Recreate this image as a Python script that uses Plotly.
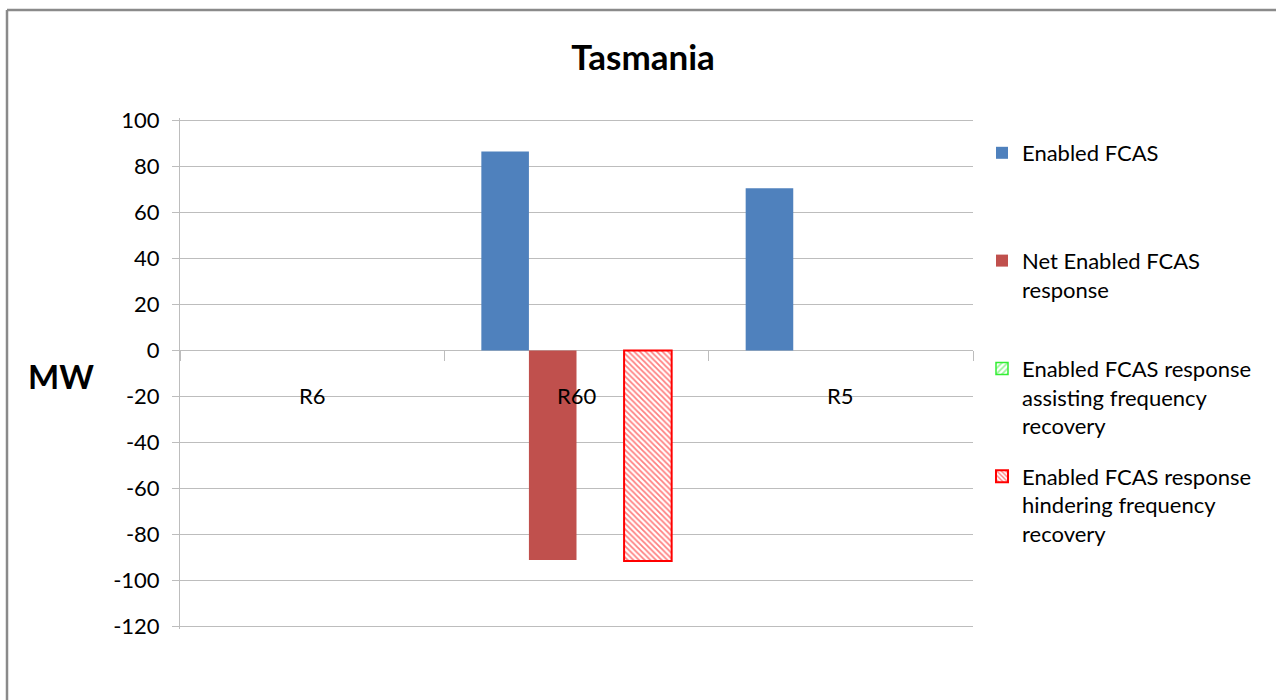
import plotly.graph_objects as go

# ---- data ----
categories = ["R6", "R60", "R5"]
enabled_fcas = [None, 86.5, 70.5]
net_enabled = [None, -91.0, None]
assisting = [None, None, None]
hindering = [None, -91.5, None]
y_ticks = [100, 80, 60, 40, 20, 0, -20, -40, -60, -80, -100, -120]
y_tick_labels = [str(v) for v in y_ticks]

legend_names = [
    "Enabled FCAS<br> <br> ",
    "Net Enabled FCAS<br>response<br> ",
    "Enabled FCAS response<br>assisting frequency<br>recovery",
    "Enabled FCAS response<br>hindering frequency<br>recovery",
]

W, H = 1276, 700
ML, MR, MT, MB = 180, 303, 118, 71
PW, PH = W - ML - MR, H - MT - MB

FONT = "Lato"
GRID = "#BDBDBD"
YMIN, YMAX = -121, 101

xs = list(range(len(categories)))

fig = go.Figure()
fig.add_trace(go.Bar(x=xs, y=enabled_fcas, name=legend_names[0], legendgroup="a",
                     marker=dict(color="#4F81BD", line=dict(width=0))))
fig.add_trace(go.Bar(x=xs, y=net_enabled, name=legend_names[1], legendgroup="b",
                     marker=dict(color="#C0504D", line=dict(width=0))))
fig.add_trace(go.Bar(x=xs, y=assisting, name=legend_names[2], legendgroup="c",
                     marker=dict(color="white", line=dict(color="#33EE33", width=1.5),
                                 pattern=dict(shape="/", fgcolor="#33EE33", bgcolor="white",
                                              size=5, solidity=0.45))))
fig.add_trace(go.Bar(x=xs, y=hindering, name=legend_names[3], legendgroup="d",
                     marker=dict(color="white", line=dict(color="#FF0000", width=2),
                                 pattern=dict(shape="\\", fgcolor="#FF0000", bgcolor="white",
                                              size=4, solidity=0.45))))

# category labels below the zero axis
for i, c in enumerate(categories):
    fig.add_annotation(x=i, y=0, xref="x", yref="y", text=c, showarrow=False,
                       yanchor="top", yshift=-30, font=dict(family=FONT, size=22, color="black"))

def px_x(p):
    return (p - ML) / PW

def px_y(p):
    return (H - MB - p) / PH

# chart border (top and left)
fig.add_shape(type="line", xref="paper", yref="paper", x0=px_x(7), x1=px_x(1290),
              y0=px_y(10), y1=px_y(10), line=dict(color="#8A8A8A", width=2.5))
fig.add_shape(type="line", xref="paper", yref="paper", x0=px_x(7), x1=px_x(7),
              y0=px_y(10), y1=px_y(710), line=dict(color="#8A8A8A", width=2.5))

# MW label
fig.add_annotation(x=px_x(61), y=px_y(376), xref="paper", yref="paper", text="<b>MW</b>",
                   showarrow=False, xanchor="center", yanchor="middle",
                   font=dict(family=FONT, size=33, color="black"))

fig.update_layout(
    width=W, height=H,
    margin=dict(l=ML, r=MR, t=MT, b=MB, pad=0),
    paper_bgcolor="white", plot_bgcolor="white",
    title=dict(text="<b>Tasmania</b>", x=(643) / W, xanchor="center",
               y=1 - 58 / H, yanchor="middle", font=dict(family=FONT, size=35, color="black")),
    barmode="group", bargap=0.28, bargroupgap=0,
    showlegend=True,
    legend=dict(x=px_x(982), xanchor="left", y=px_y(132), yanchor="top",
                font=dict(family=FONT, size=22, color="black"),
                traceorder="grouped", tracegroupgap=19, valign="top",
                bgcolor="rgba(0,0,0,0)"),
    xaxis=dict(range=[-0.5, 2.5], tickvals=[-0.5, 0.5, 1.5, 2.5], showticklabels=False,
               ticks="outside", ticklen=10, tickcolor=GRID, showgrid=False,
               showline=True, linecolor=GRID, linewidth=1, layer="below traces",
               anchor="free", position=(0 - YMIN) / (YMAX - YMIN), zeroline=False,
               fixedrange=True),
    yaxis=dict(range=[YMIN, YMAX], tickvals=y_ticks, ticktext=y_tick_labels,
               showgrid=True, gridcolor=GRID, gridwidth=1,
               showline=True, linecolor=GRID, linewidth=1, ticks="outside", ticklen=7,
               tickcolor=GRID, zeroline=False, ticklabelstandoff=8,
               tickfont=dict(family=FONT, size=22, color="black")),
)

fig.write_html("out.html")
